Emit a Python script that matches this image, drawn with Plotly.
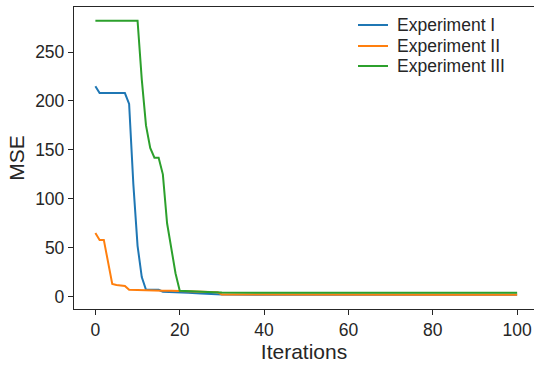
import plotly.graph_objects as go

# Data
exp1_x = [0, 1, 2, 3, 4, 5, 6, 7, 8, 9, 10, 11, 12, 13, 14, 15, 16, 18, 20, 22, 25, 28, 30, 40, 60, 80, 100]
exp1_y = [215, 208, 208, 208, 208, 208, 208, 208, 197, 115, 52, 20, 7, 7, 7, 7, 5, 4.8, 4.6, 4, 3.2, 2.8, 2.2, 2, 2, 2, 2]

exp2_x = [0, 1, 2, 3, 4, 5, 6, 7, 8, 9, 10, 12, 14, 16, 18, 20, 22, 25, 28, 29, 30, 40, 60, 80, 100]
exp2_y = [65, 58, 58, 36, 13, 12, 11.5, 11, 7, 6.8, 6.6, 6.4, 6.2, 6, 6, 5.8, 5.3, 5, 4.6, 4.5, 2.2, 2, 1.9, 1.9, 1.9]

exp3_x = [0, 1, 2, 3, 4, 5, 6, 7, 8, 9, 10, 11, 12, 13, 14, 15, 16, 17, 18, 19, 20, 22, 25, 28, 30, 35, 40, 60, 80, 100]
exp3_y = [282, 282, 282, 282, 282, 282, 282, 282, 282, 282, 282, 222, 175, 152, 142, 142, 125, 75, 50, 24, 6, 5.5, 5, 4.6, 4.3, 4, 4, 4, 4, 4]

names = ["Experiment I", "Experiment II", "Experiment III"]
colors = ["#1f77b4", "#ff7f0e", "#2ca02c"]

x_ticks = [0, 20, 40, 60, 80, 100]
y_ticks = [0, 50, 100, 150, 200, 250]

FONT = "Liberation Sans, Arial, sans-serif"
TXT = "#262626"

fig = go.Figure()
for xs, ys, nm, c in zip([exp1_x, exp2_x, exp3_x], [exp1_y, exp2_y, exp3_y], names, colors):
    fig.add_trace(go.Scatter(x=xs, y=ys, mode="lines", name=nm,
                             line=dict(color=c, width=2), showlegend=False))

# Frameless legend in the upper right (drawn in paper coordinates)
leg_line_x0, leg_line_x1, leg_text_x = 0.6174, 0.6826, 0.6978
leg_rows = [0.9404, 0.8709, 0.8046]
for nm, c, ry in zip(names, colors, leg_rows):
    fig.add_shape(type="line", xref="paper", yref="paper",
                  x0=leg_line_x0, x1=leg_line_x1, y0=ry, y1=ry,
                  line=dict(color=c, width=2))
    fig.add_annotation(xref="paper", yref="paper", x=leg_text_x, y=ry,
                       text=nm, showarrow=False, xanchor="left", yanchor="middle",
                       font=dict(family=FONT, size=17.5, color=TXT))

fig.update_layout(
    width=534, height=365,
    margin=dict(l=74, r=0, t=7, b=56, autoexpand=False),
    paper_bgcolor="white", plot_bgcolor="white",
    font=dict(family=FONT, size=17.5, color=TXT),
    showlegend=False,
)
fig.update_xaxes(
    range=[-5.07, 104.0], tickvals=x_ticks, ticktext=[str(v) for v in x_ticks],
    showgrid=False, zeroline=False, automargin=False,
    showline=True, linecolor=TXT, linewidth=1.3, mirror=True,
    ticks="outside", ticklen=5, tickwidth=1.2, tickcolor=TXT,
    title=dict(text="Iterations", standoff=4),
)
fig.update_yaxes(
    range=[-12.6, 296], tickvals=y_ticks, ticktext=[str(v) for v in y_ticks],
    showgrid=False, zeroline=False, automargin=False,
    showline=True, linecolor=TXT, linewidth=1.3, mirror=False,
    ticks="outside", ticklen=5, tickwidth=1.2, tickcolor=TXT,
    title=dict(text="MSE", standoff=4),
)

fig.write_html("out.html", config={"displayModeBar": False},
               post_script="document.body.style.margin='0';document.body.style.overflow='hidden';")
